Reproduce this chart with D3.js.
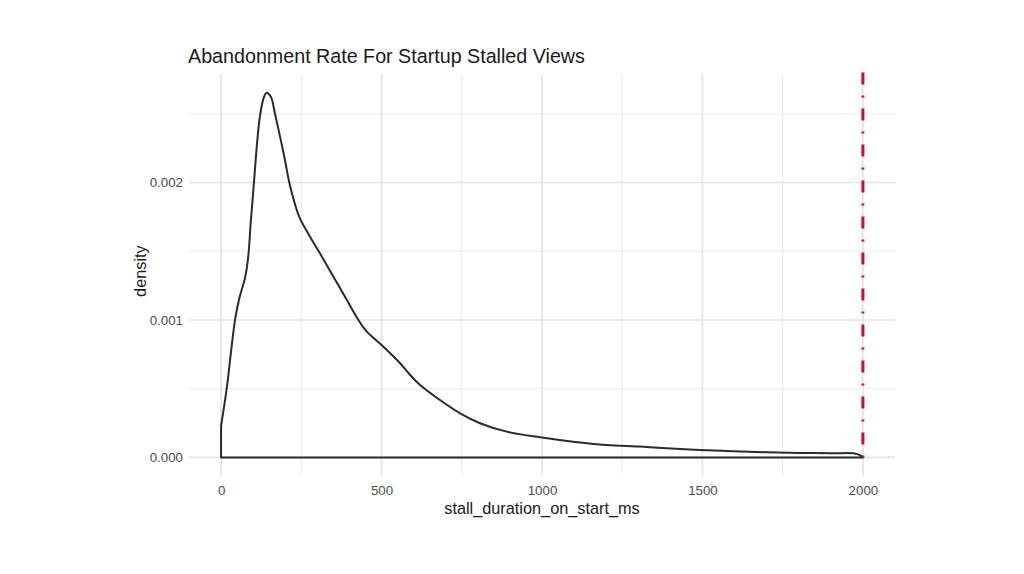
<!DOCTYPE html>
<html>
<head>
<meta charset="utf-8">
<script src="https://cdn.jsdelivr.net/npm/d3@7"></script>
<style>
  html, body { margin: 0; padding: 0; background: #fff; }
  svg { display: block; }
  text { font-family: "Liberation Sans", Arial, Helvetica, sans-serif; }
</style>
</head>
<body>
<svg id="chart" width="1024" height="574"></svg>
<script>
// ---- data ----
const stallMs = [0, 18, 33, 44, 57, 75, 85, 92, 99, 106, 113, 121, 132, 142, 155, 168, 184, 199, 213, 231, 246, 277, 308, 350, 392, 428, 454, 500, 558, 589, 620, 682, 745, 807, 890, 994, 1097, 1201, 1305, 1389, 1492, 1596, 1700, 1804, 1908, 1970, 1996, 2000];
const densityVals = [0.00023, 0.00051, 0.00081, 0.00101, 0.00116, 0.00131, 0.00147, 0.0017, 0.0019, 0.00211, 0.00231, 0.00248, 0.00261, 0.002653, 0.002624, 0.0025, 0.00233, 0.002164, 0.001994, 0.001836, 0.001737, 0.001606, 0.001485, 0.001315, 0.001145, 0.001, 0.000915, 0.000818, 0.000685, 0.0006, 0.000527, 0.000418, 0.000321, 0.000249, 0.000188, 0.000147, 0.000115, 0.000091, 0.000079, 0.000067, 0.000055, 0.000045, 0.000038, 0.000033, 0.00003, 0.00003, 0.00001, 0];
const xTicks = [0, 500, 1000, 1500, 2000];
const xMinor = [250, 750, 1250, 1750];
const yTicks = [0, 0.001, 0.002];
const yMinor = [0.0005, 0.0015, 0.0025];
const cutoff = [2000];
const titleText = "Abandonment Rate For Startup Stalled Views";
const xLabel = "stall_duration_on_start_ms";
const yLabel = "density";

// ---- layout ----
const svg = d3.select("#chart");
const panel = { left: 189, right: 895, top: 74.5, bottom: 475.7 };

const x = d3.scaleLinear().domain([-100, 2100]).range([panel.left, panel.right]);
const yMax = d3.max(densityVals);
const y = d3.scaleLinear().domain([-0.05 * yMax, 1.05 * yMax]).range([panel.bottom, panel.top]);

const grid = svg.append("g");
// minor grid
grid.selectAll("line.ymin").data(yMinor).join("line")
  .attr("x1", panel.left).attr("x2", panel.right)
  .attr("y1", d => y(d)).attr("y2", d => y(d))
  .attr("stroke", "#ebebeb").attr("stroke-width", 1);
grid.selectAll("line.xmin").data(xMinor).join("line")
  .attr("y1", panel.top).attr("y2", panel.bottom)
  .attr("x1", d => x(d)).attr("x2", d => x(d))
  .attr("stroke", "#ebebeb").attr("stroke-width", 1);
// major grid
grid.selectAll("line.ymaj").data(yTicks).join("line")
  .attr("x1", panel.left).attr("x2", panel.right)
  .attr("y1", d => y(d)).attr("y2", d => y(d))
  .attr("stroke", "#e3e3e3").attr("stroke-width", 1.7);
grid.selectAll("line.xmaj").data(xTicks).join("line")
  .attr("y1", panel.top).attr("y2", panel.bottom)
  .attr("x1", d => x(d)).attr("x2", d => x(d))
  .attr("stroke", "#e3e3e3").attr("stroke-width", 1.7);

// axes (labels only, like theme_minimal)
const xAxis = d3.axisBottom(x).tickValues(xTicks).tickSize(0).tickPadding(0).tickFormat(d3.format("d"));
const gx = svg.append("g").attr("transform", `translate(0,${panel.bottom + 19})`).call(xAxis);
gx.select(".domain").remove();
gx.selectAll("text").attr("fill", "#4d4d4d").style("font-size", "13.3px").attr("dy", "0");

const yAxis = d3.axisLeft(y).tickValues(yTicks).tickSize(0).tickPadding(0).tickFormat(d3.format(".3f"));
const gy = svg.append("g").attr("transform", `translate(${panel.left - 6},0)`).call(yAxis);
gy.select(".domain").remove();
gy.selectAll("text").attr("fill", "#4d4d4d").style("font-size", "13.3px");

// density outline
const pts = stallMs.map((d, i) => [d, densityVals[i]]);
const line = d3.line().x(d => x(d[0])).y(d => y(d[1])).curve(d3.curveCatmullRom.alpha(0.5));
svg.append("path")
  .attr("d", `M${x(0)},${y(0)}` + "L" + line(pts).slice(1) + `L${x(0)},${y(0)}Z`)
  .attr("fill", "none").attr("stroke", "#2b2b2b").attr("stroke-width", 2)
  .attr("stroke-linejoin", "round");

// cutoff line
svg.selectAll("line.cut").data(cutoff).join("line")
  .attr("x1", d => x(d)).attr("x2", d => x(d))
  .attr("y1", panel.top - 2).attr("y2", y(0))
  .attr("stroke", "#c8102e").attr("stroke-width", 3)
  .attr("stroke-dasharray", "12,11,2,11");

// titles
svg.append("text").attr("x", 188).attr("y", 63).text(titleText)
  .attr("fill", "#1a1a1a").style("font-size", "19.7px");
svg.append("text").attr("x", (panel.left + panel.right) / 2).attr("y", 514)
  .attr("text-anchor", "middle").text(xLabel)
  .attr("fill", "#1a1a1a").style("font-size", "16.3px");
svg.append("text")
  .attr("transform", `translate(146,${(panel.top + panel.bottom) / 2 - 4}) rotate(-90)`)
  .attr("text-anchor", "middle").text(yLabel)
  .attr("fill", "#1a1a1a").style("font-size", "16.3px");
</script>
</body>
</html>
